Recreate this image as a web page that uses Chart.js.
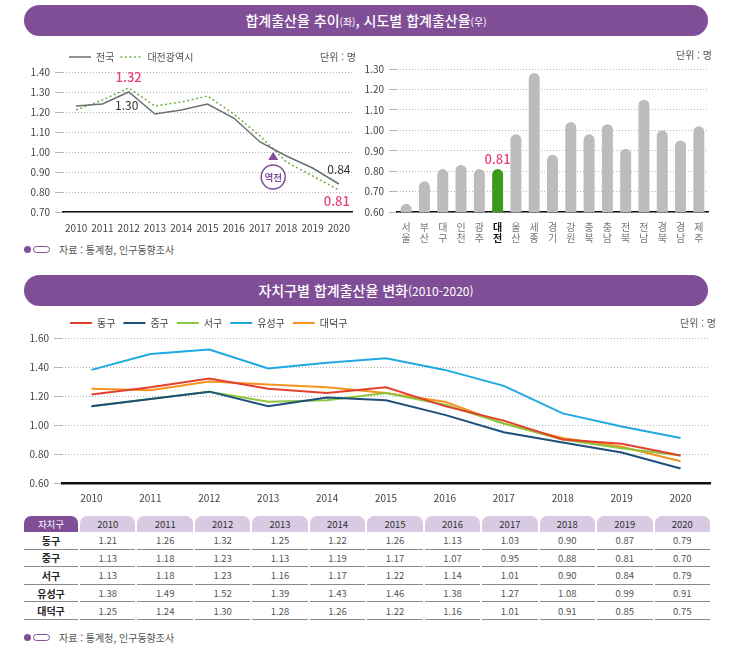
<!DOCTYPE html>
<html lang="ko">
<head>
<meta charset="utf-8">
<script src="https://cdn.jsdelivr.net/npm/chart.js@4.4.1/dist/chart.umd.min.js"></script>
<style>
  body { margin: 0; width: 730px; height: 656px; position: relative; background: #fff; overflow: hidden;
         font-family: 'Noto Sans CJK KR', 'Noto Sans', sans-serif; color: #333; }
  .band { position: absolute; left: 24px; width: 684px; height: 31px; border-radius: 16px; background: #7f4e97;
          color: #fff; text-align: center; font-size: 14px; line-height: 31px; font-weight: 500; }
  .band small { font-size: 10px; font-weight: 400; }
  .unit { position: absolute; font-size: 10px; color: #555; }
  .src { position: absolute; left: 24px; font-size: 10px; color: #555; display: flex; align-items: center; }
  .src .dot { width: 7px; height: 7px; border-radius: 50%; background: #7f4e97; margin-right: 2px; }
  .src .pill { width: 15px; height: 5px; border: 1.5px solid #7f4e97; border-radius: 4px; margin-right: 9px; }
  canvas { position: absolute; }
  table { position: absolute; left: 22px; top: 516px; width: 690px; border-collapse: separate; border-spacing: 2px 0;
          table-layout: fixed; font-size: 9.5px; }
  th { height: 16px; padding: 0; font-weight: 400; background: #d9cae4; color: #333; border-radius: 7px 7px 0 0; }
  th.first { background: #7f4e97; color: #fff; }
  td { height: 16.6px; padding: 0; text-align: center; color: #555; border-bottom: 1px solid #8a8a8a; }
  td.name { color: #222; font-weight: 600; font-size: 10px; }
</style>
</head>
<body>
<div class="band" style="top:5px">합계출산율 추이<small>(좌)</small>, 시도별 합계출산율<small>(우)</small></div>

<canvas id="trend" width="340" height="192" style="left:20px;top:46px"></canvas>
<div class="unit" style="left:320px;top:49px">단위 : 명</div>

<canvas id="sido" width="355" height="200" style="left:360px;top:46px"></canvas>
<div class="unit" style="left:676px;top:47px">단위 : 명</div>

<div class="src" style="top:242px"><span class="dot"></span><span class="pill"></span>자료 : 통계청, 인구동향조사</div>

<div class="band" style="top:275px">자치구별 합계출산율 변화<small style="font-size:12px">(2010-2020)</small></div>

<canvas id="gu" width="700" height="200" style="left:20px;top:310px"></canvas>
<div class="unit" style="left:680px;top:315px">단위 : 명</div>

<table id="guTable"></table>

<div class="src" style="top:630px"><span class="dot"></span><span class="pill"></span>자료 : 통계청, 인구동향조사</div>

<script>
// 합계출산율 추이 (좌)
const years = ['2010', '2011', '2012', '2013', '2014', '2015', '2016', '2017', '2018', '2019', '2020'];
const nationRate = [1.23, 1.24, 1.30, 1.19, 1.21, 1.24, 1.17, 1.05, 0.98, 0.92, 0.84];
const daejeonRate = [1.21, 1.26, 1.32, 1.23, 1.25, 1.28, 1.19, 1.08, 0.95, 0.88, 0.81];

// 시도별 합계출산율 (우), 2020
const regions = ['서울', '부산', '대구', '인천', '광주', '대전', '울산', '세종', '경기', '강원', '충북', '충남', '전북', '전남', '경북', '경남', '제주'];
const regionRate = [0.64, 0.75, 0.81, 0.83, 0.81, 0.81, 0.98, 1.28, 0.88, 1.04, 0.98, 1.03, 0.91, 1.15, 1.00, 0.95, 1.02];

// 자치구별 합계출산율
const districts = ['동구', '중구', '서구', '유성구', '대덕구'];
const donggu = [1.21, 1.26, 1.32, 1.25, 1.22, 1.26, 1.13, 1.03, 0.90, 0.87, 0.79];
const junggu = [1.13, 1.18, 1.23, 1.13, 1.19, 1.17, 1.07, 0.95, 0.88, 0.81, 0.70];
const seogu = [1.13, 1.18, 1.23, 1.16, 1.17, 1.22, 1.14, 1.01, 0.90, 0.84, 0.79];
const yuseonggu = [1.38, 1.49, 1.52, 1.39, 1.43, 1.46, 1.38, 1.27, 1.08, 0.99, 0.91];
const daedeokgu = [1.25, 1.24, 1.30, 1.28, 1.26, 1.22, 1.16, 1.01, 0.91, 0.85, 0.75];

const PURPLE = '#7f4e97';
const PINK = '#e8417f';
const FONT = "'Noto Sans CJK KR', 'Noto Sans', sans-serif";
Chart.defaults.font.family = FONT;
Chart.defaults.font.size = 10;
Chart.defaults.color = '#444';

const dottedGrid = { color: '#b5b5b5', lineWidth: 1 };
const yBorder = { display: false, dash: [1, 2] };
const xBorder = { display: true, color: '#111', width: 1.5 };

// 범례에 선 스타일(점선 포함) 반영
function lineLegendLabels(chart) {
  return Chart.defaults.plugins.legend.labels.generateLabels(chart).map((item, i) => {
    const ds = chart.data.datasets[i];
    return { ...item, strokeStyle: ds.borderColor, lineWidth: ds.borderWidth, lineDash: ds.borderDash || [] };
  });
}

// 좌측 차트 주석
const trendNotes = {
  id: 'trendNotes',
  afterDatasetsDraw(chart) {
    const { ctx, scales: { x, y } } = chart;
    const i12 = years.indexOf('2012');
    const i20 = years.indexOf('2020');
    ctx.save();
    ctx.textAlign = 'center';
    ctx.textBaseline = 'middle';
    ctx.font = '500 13px ' + FONT;
    ctx.fillStyle = PINK;
    ctx.fillText(daejeonRate[i12].toFixed(2), x.getPixelForValue(i12), y.getPixelForValue(daejeonRate[i12]) - 11);
    ctx.fillText(daejeonRate[i20].toFixed(2), x.getPixelForValue(i20) - 2, y.getPixelForValue(daejeonRate[i20]) + 11);
    ctx.font = '400 12px ' + FONT;
    ctx.fillStyle = '#333';
    ctx.fillText(nationRate[i12].toFixed(2), x.getPixelForValue(i12) - 2, y.getPixelForValue(nationRate[i12]) + 13);
    ctx.fillText(nationRate[i20].toFixed(2), x.getPixelForValue(i20), y.getPixelForValue(nationRate[i20]) - 15);

    // 역전 표시
    const cx = x.getPixelForValue(7.5);
    const cy = y.getPixelForValue(0.875);
    ctx.fillStyle = PURPLE;
    ctx.beginPath();
    ctx.moveTo(cx, cy - 25);
    ctx.lineTo(cx - 5, cy - 17);
    ctx.lineTo(cx + 5, cy - 17);
    ctx.closePath();
    ctx.fill();
    ctx.beginPath();
    ctx.arc(cx, cy, 12, 0, Math.PI * 2);
    ctx.fillStyle = '#fff';
    ctx.fill();
    ctx.lineWidth = 1.5;
    ctx.strokeStyle = PURPLE;
    ctx.stroke();
    ctx.fillStyle = PURPLE;
    ctx.font = '700 9.5px ' + FONT;
    ctx.fillText('역전', cx, cy + 0.5);
    ctx.restore();
  }
};

new Chart(document.getElementById('trend'), {
  type: 'line',
  data: {
    labels: years,
    datasets: [
      { label: '전국', data: nationRate, borderColor: '#6d6e71', borderWidth: 1.5, pointRadius: 0, tension: 0 },
      { label: '대전광역시', data: daejeonRate, borderColor: '#6bb14a', borderWidth: 1.5, borderDash: [2, 2.5], pointRadius: 0, tension: 0 }
    ]
  },
  options: {
    responsive: false,
    animation: false,
    layout: { padding: { top: 0, right: 8, left: 0, bottom: 0 } },
    plugins: {
      tooltip: { enabled: false },
      legend: {
        position: 'top', align: 'start', fullSize: false,
        labels: { usePointStyle: true, pointStyle: 'line', pointStyleWidth: 22, boxHeight: 10, padding: 6, color: '#555',
                  font: { size: 10 }, generateLabels: lineLegendLabels }
      }
    },
    scales: {
      x: {
        offset: true,
        grid: { display: false },
        border: xBorder,
        ticks: { padding: 2, color: '#444', autoSkip: false, maxRotation: 0 },
        afterFit(s) { s.height = 26; }
      },
      y: {
        min: 0.7, max: 1.4,
        grid: dottedGrid,
        border: yBorder,
        ticks: { stepSize: 0.1, padding: 5, callback: v => v.toFixed(2) },
        afterFit(s) { s.width = 43; }
      }
    }
  },
  plugins: [trendNotes]
});

// 우측 막대 차트
const daejeonIdx = regions.indexOf('대전');
const sidoNotes = {
  id: 'sidoNotes',
  afterDatasetsDraw(chart) {
    const { ctx, scales: { x, y } } = chart;
    ctx.save();
    ctx.textAlign = 'center';
    ctx.textBaseline = 'middle';
    ctx.font = '500 13px ' + FONT;
    ctx.fillStyle = PINK;
    ctx.fillText(regionRate[daejeonIdx].toFixed(2), x.getPixelForValue(daejeonIdx), y.getPixelForValue(regionRate[daejeonIdx]) - 10);
    ctx.restore();
  }
};

new Chart(document.getElementById('sido'), {
  type: 'bar',
  data: {
    labels: regions.map(r => r.split('')),
    datasets: [{
      data: regionRate,
      backgroundColor: regions.map((r, i) => i === daejeonIdx ? '#3c9a1f' : '#bcbcbe'),
      borderRadius: { topLeft: 6, topRight: 6 },
      borderSkipped: false,
      categoryPercentage: 0.6,
      barPercentage: 1
    }]
  },
  options: {
    responsive: false,
    animation: false,
    layout: { padding: { top: 23, right: 7, left: 0, bottom: 0 } },
    plugins: { legend: { display: false }, tooltip: { enabled: false } },
    scales: {
      x: {
        offset: true,
        grid: { display: false },
        border: xBorder,
        ticks: {
          padding: 2, autoSkip: false, maxRotation: 0,
          color: c => c.index === daejeonIdx ? '#111' : '#777',
          font: c => ({ size: 10, weight: c.index === daejeonIdx ? 'bold' : 'normal', lineHeight: 1.1 })
        },
        afterFit(s) { s.height = 34; }
      },
      y: {
        min: 0.6, max: 1.3,
        grid: dottedGrid,
        border: yBorder,
        ticks: { stepSize: 0.1, padding: 5, callback: v => v.toFixed(2) },
        afterFit(s) { s.width = 37; }
      }
    }
  },
  plugins: [sidoNotes]
});

// 하단 자치구 차트
const guSeries = [donggu, junggu, seogu, yuseonggu, daedeokgu];
const guColors = ['#e2402f', '#1d4f7c', '#8cc63e', '#1ea9e1', '#f6921e'];

new Chart(document.getElementById('gu'), {
  type: 'line',
  data: {
    labels: years,
    datasets: districts.map((d, i) => ({
      label: d, data: guSeries[i], borderColor: guColors[i], backgroundColor: guColors[i],
      borderWidth: 2, pointRadius: 0, tension: 0
    }))
  },
  options: {
    responsive: false,
    animation: false,
    layout: { padding: { top: 0, right: 10, left: 0, bottom: 0 } },
    plugins: {
      tooltip: { enabled: false },
      legend: {
        position: 'top', align: 'start', fullSize: false,
        labels: { usePointStyle: true, pointStyle: 'line', pointStyleWidth: 22, boxHeight: 10, padding: 8, color: '#444',
                  font: { size: 10 }, generateLabels: lineLegendLabels }
      }
    },
    scales: {
      x: {
        offset: true,
        grid: { display: false },
        border: { display: true, color: '#111', width: 2.5 },
        ticks: { padding: 1, color: '#444', autoSkip: false, maxRotation: 0 },
        afterFit(s) { s.height = 27; }
      },
      y: {
        min: 0.6, max: 1.6,
        grid: dottedGrid,
        border: yBorder,
        ticks: { stepSize: 0.2, padding: 5, callback: v => v.toFixed(2) },
        afterFit(s) { s.width = 42; }
      }
    }
  }
});

// 표
const table = document.getElementById('guTable');
let html = '<colgroup><col style="width:54px">' + years.map(() => '<col>').join('') + '</colgroup>';
html += '<tr><th class="first">자치구</th>' + years.map(y => '<th>' + y + '</th>').join('') + '</tr>';
districts.forEach((d, i) => {
  html += '<tr><td class="name">' + d + '</td>' + guSeries[i].map(v => '<td>' + v.toFixed(2) + '</td>').join('') + '</tr>';
});
table.innerHTML = html;
</script>
</body>
</html>
